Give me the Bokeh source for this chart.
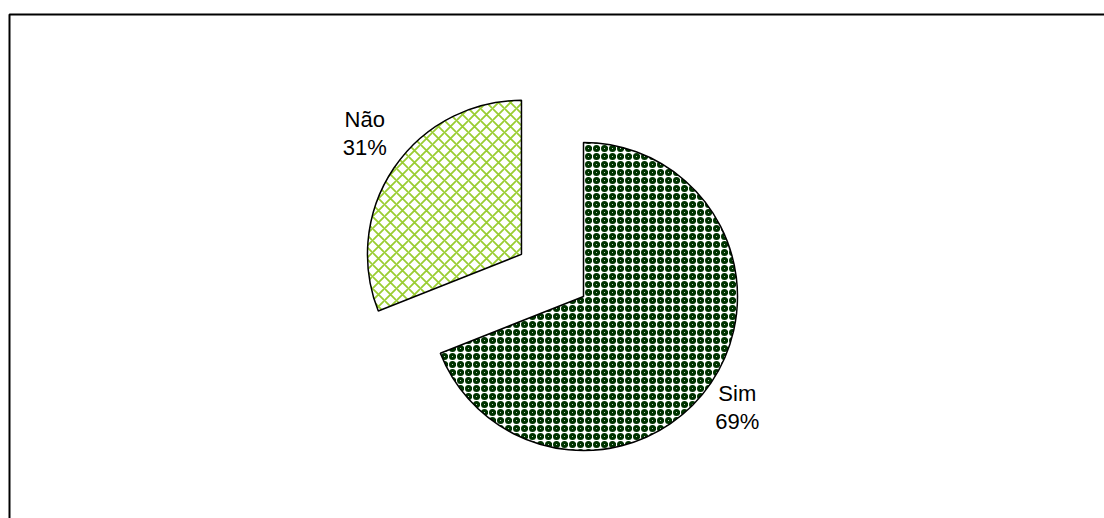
import math
from bokeh.plotting import figure
from bokeh.models import Range1d, BoxAnnotation
from bokeh.core.properties import value
from bokeh.embed import file_html
from bokeh.resources import INLINE

# ---- data ----
categories = ["Sim", "Não"]
values = [69, 31]

# ---- layout / style ----
W, H = 1104, 518
CX, CY = 583, H - 296      # pie centre (data units == pixels, y up)
R = 154
EXPLODE = [0, 75]
LABEL_R = 1.27 * R
LABEL_SHIFT = [(-8, -2), (5, 10)]   # fine placement of labels (pixels)
fills = ["#ffffff", "#ffffff"]
hatch_patterns = ["ring", "diagonal_cross"]
hatch_colors = ["#003300", "#9acd32"]
hatch_scales = [8, 12]
hatch_weights = [3, 1.8]
FONT = "Liberation Sans"
FONT_SIZE = "22px"

p = figure(width=W, height=H, output_backend="svg", toolbar_location=None,
           x_range=Range1d(0, W), y_range=Range1d(0, H),
           min_border=0, min_border_left=0, min_border_right=0,
           min_border_top=0, min_border_bottom=0)
p.axis.visible = False
p.grid.visible = False
p.outline_line_color = None
p.background_fill_color = "white"
p.border_fill_color = "white"

# chart frame (only left / top visible in window)
p.add_layout(BoxAnnotation(left=9, top=H - 14, right=W + 50, bottom=-50,
                           fill_alpha=0, line_color="black", line_width=2,
                           line_alpha=1))

total = sum(values)
start = math.pi / 2  # start at 12 o'clock, go clockwise
for i, (cat, v) in enumerate(zip(categories, values)):
    sweep = 2 * math.pi * v / total
    end = start - sweep
    mid = (start + end) / 2
    ox = CX + EXPLODE[i] * math.cos(mid)
    oy = CY + EXPLODE[i] * math.sin(mid)
    p.wedge(x=[ox], y=[oy], radius=R, start_angle=end, end_angle=start,
            direction="anticlock", fill_color=fills[i],
            hatch_pattern=hatch_patterns[i], hatch_color=hatch_colors[i],
            hatch_scale=hatch_scales[i], hatch_weight=hatch_weights[i],
            line_color="black", line_width=1.5)
    lx = ox + LABEL_R * math.cos(mid) + LABEL_SHIFT[i][0]
    ly = oy + LABEL_R * math.sin(mid) + LABEL_SHIFT[i][1]
    pct = f"{round(100 * v / total)}%"
    p.text(x=[lx], y=[ly + 2], text=[cat], text_align="center",
           text_baseline="bottom", text_font=value(FONT),
           text_font_size=FONT_SIZE, text_color="black")
    p.text(x=[lx], y=[ly - 1], text=[pct], text_align="center",
           text_baseline="top", text_font=value(FONT),
           text_font_size=FONT_SIZE, text_color="black")
    start = end

open("out.html", "w").write(file_html(p, INLINE))
